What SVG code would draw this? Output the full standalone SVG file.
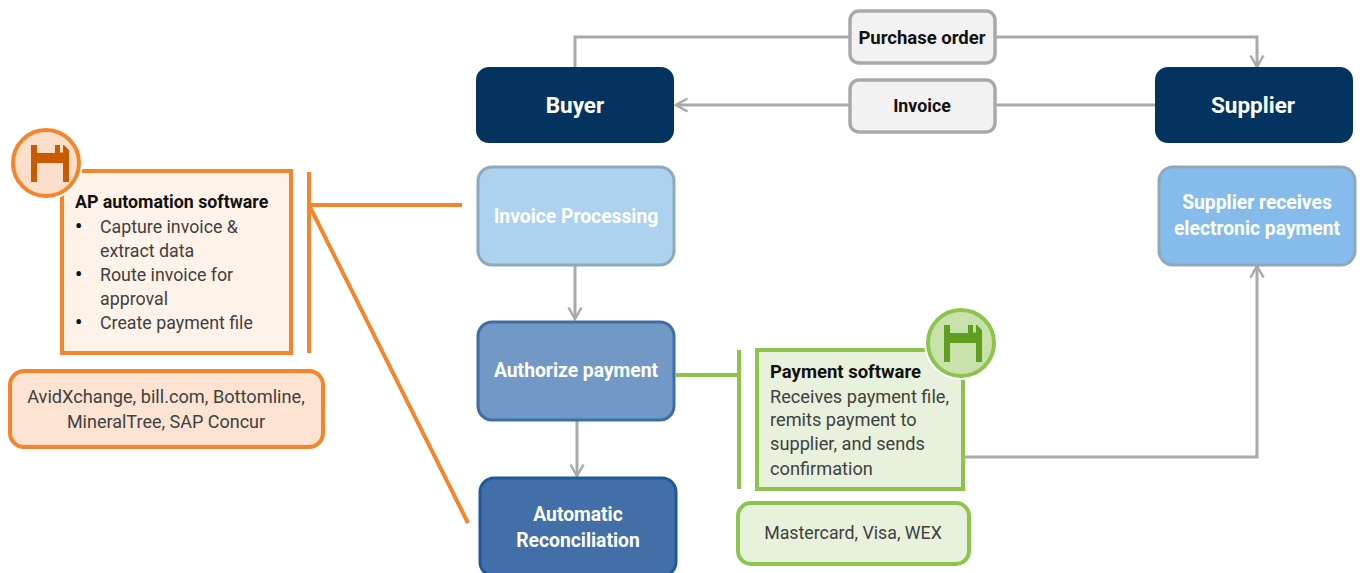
<svg xmlns="http://www.w3.org/2000/svg" width="1360" height="573" viewBox="0 0 1360 573">
<defs>
<marker id="arr" markerUnits="userSpaceOnUse" markerWidth="16" markerHeight="16" refX="13" refY="8" orient="auto"><path d="M1.500 1.500L13 8L1.500 14.500" fill="none" stroke="#a9a9a9" stroke-width="2.500"/></marker>
<path id="disk" fill-rule="evenodd" d="M-19-18.500H14L19-13.500V18.500H13V-0.500H-13V18.500H-19Z M-13-18.500V-10.500H5V-18.500Z M10-18.500V-11H13V-18.500Z"/>
</defs>
<style>
text{font-family:Roboto,"Liberation Sans",sans-serif;font-size:17.800px;fill:#404040}
.c{text-anchor:middle}
.b{font-weight:700;fill:#111}
.w{font-weight:700;fill:#fff;font-size:19.300px}
.h{font-size:22.500px}
.bu{font-size:20px;fill:#111;font-weight:700}
.l{fill:none;stroke:#a9a9a9;stroke-width:3}
.o{fill:none;stroke:#f5842b;stroke-width:4}
.g{fill:none;stroke:#8cc44e;stroke-width:4}
.lab{fill:#f2f2f2;stroke:#a9a9a9;stroke-width:3.500}
</style>
<rect width="1360" height="573" fill="#fff"/>
<g id="connectors">
<path class="l" d="M575 67V37H850"/>
<path class="l" d="M995 37H1257V67" marker-end="url(#arr)"/>
<path class="l" d="M1155 105H676" marker-end="url(#arr)"/>
<path class="l" d="M575 266V319" marker-end="url(#arr)"/>
<path class="l" d="M577 421V476" marker-end="url(#arr)"/>
<path class="l" d="M961 457H1257V266" marker-end="url(#arr)"/>
<path class="o" d="M309 172V353M309 205H462M309 205L468 523"/>
<path class="g" d="M676 375H739M739 350V489"/>
</g>
<g id="purchase-order"><rect class="lab" x="850" y="11" width="145" height="52" rx="9"/><text class="c b" x="922" y="44" style="font-size:18.500px">Purchase order</text></g>
<g id="invoice"><rect class="lab" x="850" y="80" width="145" height="52" rx="9"/><text class="c b" x="922" y="112">Invoice</text></g>
<g id="buyer"><rect x="476" y="67" width="198" height="76" rx="13" fill="#03335e"/><text class="c w h" x="575" y="113">Buyer</text></g>
<g id="supplier"><rect x="1155" y="67" width="198" height="76" rx="13" fill="#03335e"/><text class="c w h" x="1253" y="113">Supplier</text></g>
<g id="invoice-processing"><rect x="478" y="167" width="196" height="98" rx="14" fill="#acd2ef" stroke="#8ea9bd" stroke-width="3"/><text class="c w" x="576" y="223">Invoice Processing</text></g>
<g id="supplier-receives"><rect x="1159" y="167" width="196" height="98" rx="14" fill="#85bceb" stroke="#8ea9bd" stroke-width="3"/><text class="c w" x="1257" y="209">Supplier receives</text><text class="c w" x="1257" y="235">electronic payment</text></g>
<g id="authorize-payment"><rect x="478" y="322" width="196" height="98" rx="14" fill="#7299c6" stroke="#3f6ea5" stroke-width="3"/><text class="c w" x="576" y="377">Authorize payment</text></g>
<g id="automatic-reconciliation"><rect x="480" y="478" width="196" height="98" rx="14" fill="#426fa8" stroke="#1f5a98" stroke-width="3"/><text class="c w" x="578" y="521">Automatic</text><text class="c w" x="578" y="547">Reconciliation</text></g>
<g id="ap-software">
<rect x="62" y="171" width="229" height="182" fill="#fff2e8" stroke="#f5842b" stroke-width="4"/>
<circle cx="46" cy="163" r="37" fill="#fff"/>
<circle cx="46" cy="163" r="33" fill="#fbdfca" stroke="#f5842b" stroke-width="4"/>
<use href="#disk" x="50" y="163.500" fill="#c85a00"/>
<text class="b" x="75" y="208">AP automation software</text>
<text class="bu" x="75" y="233">•</text><text x="100" y="233">Capture invoice &amp;</text>
<text x="100" y="257">extract data</text>
<text class="bu" x="75" y="281">•</text><text x="100" y="281">Route invoice for</text>
<text x="100" y="305">approval</text>
<text class="bu" x="75" y="329">•</text><text x="100" y="329">Create payment file</text>
</g>
<g id="ap-vendors"><rect x="10" y="371" width="313" height="76" rx="14" fill="#fde4d2" stroke="#f5842b" stroke-width="4"/><text class="c" x="166" y="403" style="font-size:18.200px">AvidXchange, bill.com, Bottomline,</text><text class="c" x="166" y="428" style="font-size:18px">MineralTree, SAP Concur</text></g>
<g id="payment-software">
<rect x="757" y="350" width="206" height="139" fill="#e8f1dc" stroke="#8cc44e" stroke-width="4"/>
<circle cx="961" cy="343" r="37" fill="#fff"/>
<circle cx="961" cy="343" r="33" fill="#c9e2ab" stroke="#8cc44e" stroke-width="4"/>
<use href="#disk" x="963" y="343.500" fill="#5f9e1e"/>
<text class="b" x="770" y="378" style="font-size:18.500px">Payment software</text>
<text x="770" y="403" style="font-size:18.200px">Receives payment file,</text>
<text x="770" y="426" style="font-size:18.200px">remits payment to</text>
<text x="770" y="450" style="font-size:18.200px">supplier, and sends</text>
<text x="770" y="475" style="font-size:18.200px">confirmation</text>
</g>
<g id="payment-vendors"><rect x="738" y="503" width="231" height="61" rx="13" fill="#e8f1dc" stroke="#8cc44e" stroke-width="4"/><text class="c" x="853" y="539">Mastercard, Visa, WEX</text></g>
</svg>
